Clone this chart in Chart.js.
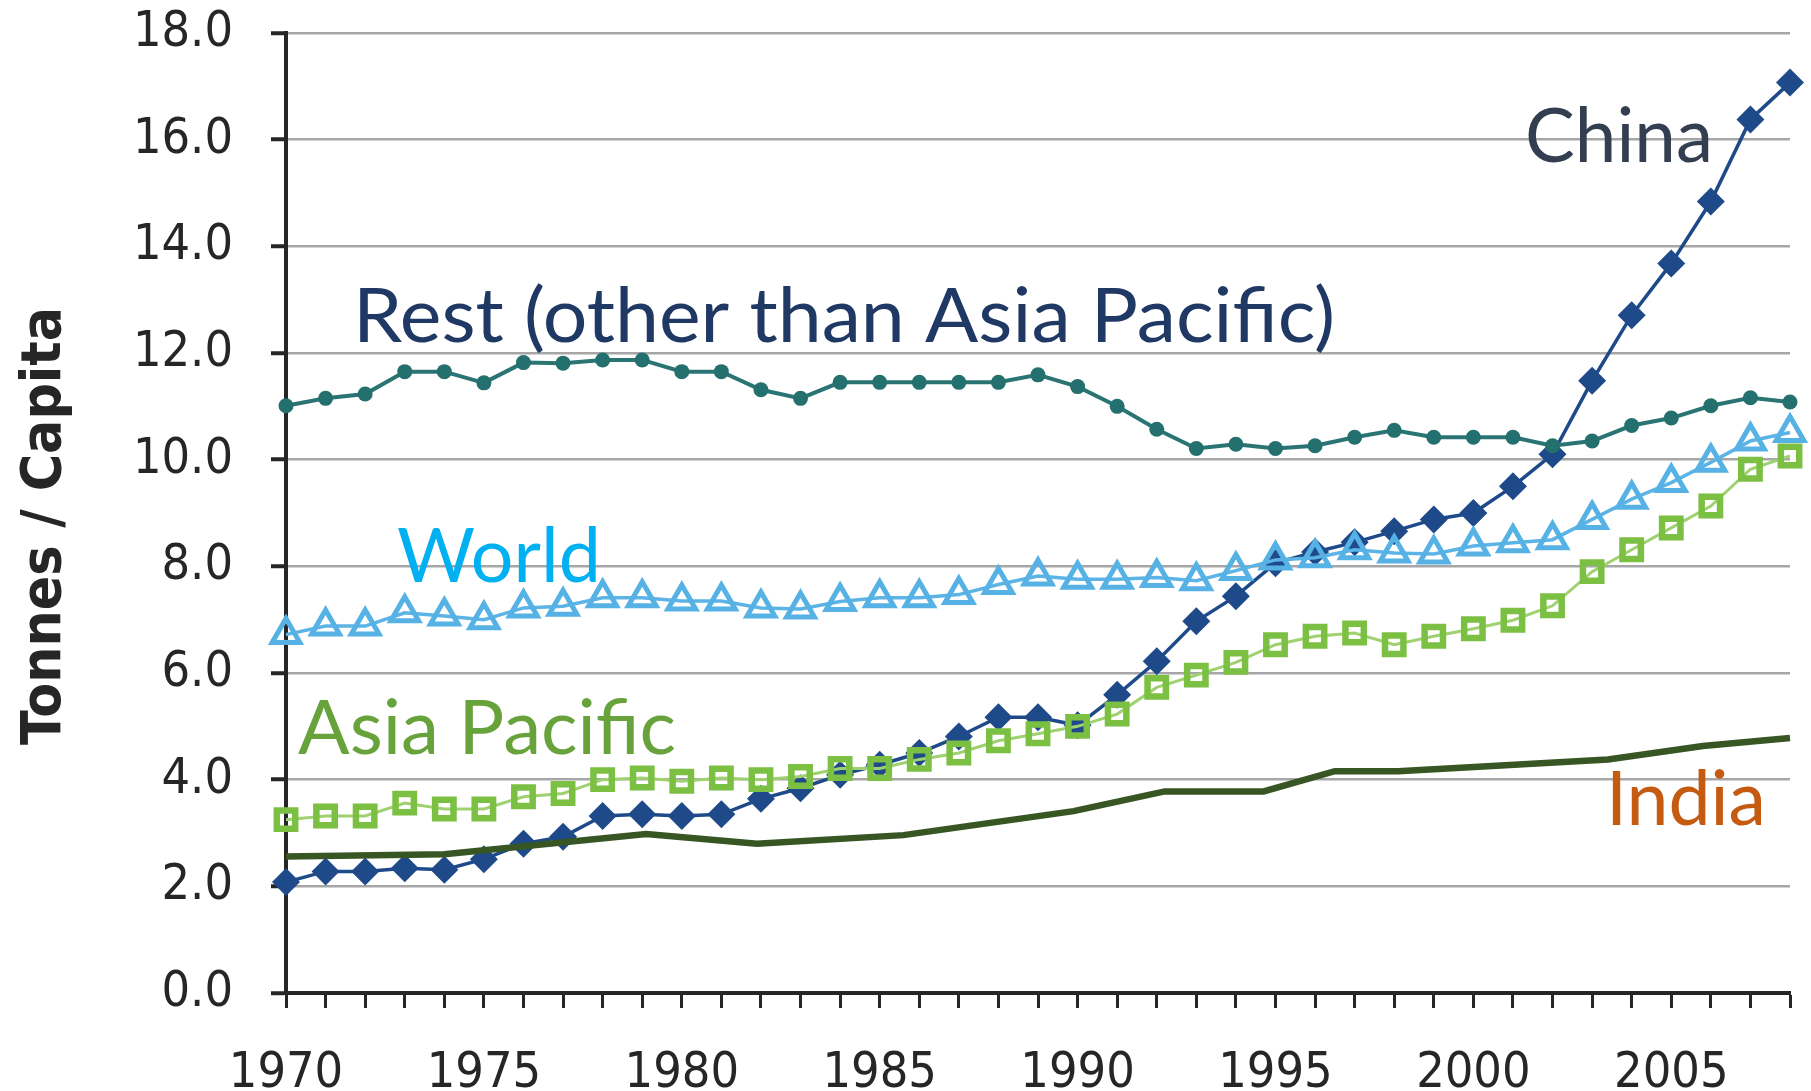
<!DOCTYPE html>
<html>
<head>
<meta charset="utf-8">
<script src="https://cdn.jsdelivr.net/npm/chart.js@4.4.1/dist/chart.umd.min.js"></script>
<style>
  html, body { margin: 0; padding: 0; background: #ffffff; }
  #wrap { width: 1811px; height: 1091px; }
</style>
</head>
<body>
<div id="wrap"><canvas id="myChart" width="1811" height="1091"></canvas></div>
<script>
// years on the x axis
const years = [1970, 1971, 1972, 1973, 1974, 1975, 1976, 1977, 1978, 1979,
  1980, 1981, 1982, 1983, 1984, 1985, 1986, 1987, 1988, 1989,
  1990, 1991, 1992, 1993, 1994, 1995, 1996, 1997, 1998, 1999,
  2000, 2001, 2002, 2003, 2004, 2005, 2006, 2007, 2008];

// tonnes / capita
const china = [2.08, 2.28, 2.28, 2.34, 2.31, 2.51, 2.80, 2.93, 3.32, 3.35,
  3.32, 3.35, 3.64, 3.84, 4.09, 4.28, 4.50, 4.81, 5.17, 5.17,
  5.02, 5.59, 6.22, 6.97, 7.44, 8.06, 8.27, 8.45, 8.66, 8.88,
  9.00, 9.50, 10.10, 11.48, 12.71, 13.68, 14.84, 16.38, 17.07];
const rest = [11.01, 11.15, 11.23, 11.65, 11.65, 11.44, 11.82, 11.81, 11.87, 11.87,
  11.65, 11.65, 11.31, 11.15, 11.45, 11.45, 11.45, 11.45, 11.45, 11.59,
  11.37, 11.00, 10.57, 10.21, 10.29, 10.21, 10.26, 10.42, 10.55, 10.42,
  10.42, 10.42, 10.26, 10.35, 10.64, 10.78, 11.01, 11.16, 11.08];
const world = [6.72, 6.88, 6.88, 7.13, 7.07, 7.00, 7.22, 7.25, 7.41, 7.41,
  7.35, 7.35, 7.22, 7.20, 7.34, 7.41, 7.41, 7.47, 7.66, 7.82,
  7.76, 7.76, 7.79, 7.73, 7.92, 8.12, 8.16, 8.31, 8.25, 8.23,
  8.38, 8.44, 8.50, 8.88, 9.26, 9.57, 9.95, 10.35, 10.51];
const asiaPacific = [3.25, 3.32, 3.32, 3.56, 3.45, 3.45, 3.68, 3.74, 4.00, 4.03,
  3.97, 4.03, 4.00, 4.06, 4.21, 4.21, 4.38, 4.50, 4.73, 4.86,
  5.00, 5.23, 5.73, 5.96, 6.20, 6.53, 6.69, 6.75, 6.53, 6.69,
  6.83, 6.99, 7.26, 7.90, 8.31, 8.72, 9.13, 9.82, 10.07];
// India is a plain line with its own break points
const indiaYears = [1970, 1974, 1979.1, 1981.9, 1985.6, 1989.9, 1992.2, 1994.7, 1996.5, 1998.1, 2003.4, 2005.8, 2008];
const india = [2.56, 2.60, 2.98, 2.80, 2.96, 3.41, 3.78, 3.78, 4.16, 4.16, 4.38, 4.63, 4.78];

const yTicks = [0, 2, 4, 6, 8, 10, 12, 14, 16, 18];
const xLabelYears = [1970, 1975, 1980, 1985, 1990, 1995, 2000, 2005];

const tickFont = '"DejaVu Sans Condensed", "DejaVu Sans", sans-serif';
const labelFont = 'Lato, "Open Sans", sans-serif';

function pts(xs, ys) {
  return xs.map((x, i) => ({ x: x, y: ys[i] }));
}

// series names written in the plot (left / baseline / wanted width in px)
const seriesLabels = [
  { text: "China", left: 1525, base: 162, width: 188, color: "#333f50" },
  { text: "Rest (other than Asia Pacific)", left: 353, base: 342, width: 982, color: "#1f3864" },
  { text: "World", left: 397, base: 582, width: 204, color: "#00b0f0" },
  { text: "Asia Pacific", left: 298, base: 754, width: 378, color: "#67a23a" },
  { text: "India", left: 1606, base: 825, width: 160, color: "#c55a11" },
];

const textPlugin = {
  id: "texts",
  afterDraw(chart) {
    const ctx = chart.ctx;
    ctx.save();
    ctx.textBaseline = "alphabetic";
    ctx.textAlign = "left";
    seriesLabels.forEach((l) => {
      ctx.font = "75px " + labelFont;
      const w = ctx.measureText(l.text).width;
      ctx.save();
      ctx.translate(l.left, l.base);
      ctx.scale(l.width / w, 1);
      ctx.fillStyle = l.color;
      ctx.fillText(l.text, 0, 0);
      ctx.restore();
    });
    // y axis title
    ctx.font = "bold 56px " + tickFont;
    const t = "Tonnes / Capita";
    const tw = ctx.measureText(t).width;
    ctx.translate(60, 526);
    ctx.rotate(-Math.PI / 2);
    ctx.scale(438 / tw, 1);
    ctx.textAlign = "center";
    ctx.fillStyle = "#262626";
    ctx.fillText(t, 0, 0);
    ctx.restore();
  },
};

const data = {
  datasets: [
    {
      label: "India",
      data: pts(indiaYears, india),
      borderColor: "#375623",
      borderWidth: 6.5,
      pointRadius: 0,
      clip: false,
    },
    {
      label: "Rest (other than Asia Pacific)",
      data: pts(years, rest),
      borderColor: "#2a7573",
      backgroundColor: "#24706e",
      borderWidth: 4,
      pointStyle: "circle",
      pointRadius: 7.5,
      pointBorderWidth: 0,
      pointBackgroundColor: "#24706e",
      clip: false,
    },
    {
      label: "World",
      data: pts(years, world),
      borderColor: "#5cb4e6",
      borderWidth: 3.5,
      pointStyle: "triangle",
      pointRadius: 16,
      pointBorderWidth: 5,
      pointBorderColor: "#56b1e5",
      pointBackgroundColor: "rgba(255,255,255,0)",
      clip: false,
    },
    {
      label: "Asia Pacific",
      data: pts(years, asiaPacific),
      borderColor: "#9fd170",
      borderWidth: 3,
      pointStyle: "rect",
      pointRadius: 13,
      pointBorderWidth: 6.5,
      pointBorderColor: "#7bc043",
      pointBackgroundColor: "rgba(255,255,255,0)",
      clip: false,
    },
    {
      label: "China",
      data: pts(years, china),
      borderColor: "#1f4a8a",
      borderWidth: 3.5,
      pointStyle: "rectRot",
      pointRadius: 14,
      pointBorderWidth: 0,
      pointBackgroundColor: "#1f4a8a",
      clip: false,
    },
  ],
};

const config = {
  type: "line",
  data: data,
  options: {
    responsive: false,
    animation: false,
    layout: { padding: { top: 33, right: 14, left: 0, bottom: 0 } },
    elements: { line: { tension: 0 } },
    plugins: { legend: { display: false }, tooltip: { enabled: false } },
    scales: {
      x: {
        type: "linear",
        min: 1970,
        max: 2008,
        afterBuildTicks: (s) => { s.ticks = years.map((v) => ({ value: v })); },
        afterFit: (s) => { s.height = 98; s.paddingLeft = 0; s.paddingRight = 0; },
        ticks: {
          autoSkip: false,
          maxRotation: 0,
          padding: 36,
          color: "#262626",
          font: { family: tickFont, size: 50 },
          callback: (v) => (xLabelYears.includes(v) ? String(v) : ""),
        },
        grid: { drawOnChartArea: false, tickColor: "#262626", tickLength: 15, tickWidth: 3 },
        border: { color: "#262626", width: 4 },
      },
      y: {
        min: 0,
        max: 18,
        afterBuildTicks: (s) => { s.ticks = yTicks.map((v) => ({ value: v })); },
        afterFit: (s) => { s.width = 286; s.paddingTop = 0; s.paddingBottom = 0; },
        ticks: {
          padding: 38,
          color: "#262626",
          font: { family: tickFont, size: 50 },
          callback: (v) => v.toFixed(1),
        },
        grid: { color: "#a6a6a6", lineWidth: 2.5, tickColor: "#262626", tickLength: 15, tickWidth: 4 },
        border: { color: "#262626", width: 4 },
      },
    },
  },
  plugins: [textPlugin],
};

const myChart = new Chart(document.getElementById("myChart"), config);
</script>
</body>
</html>
